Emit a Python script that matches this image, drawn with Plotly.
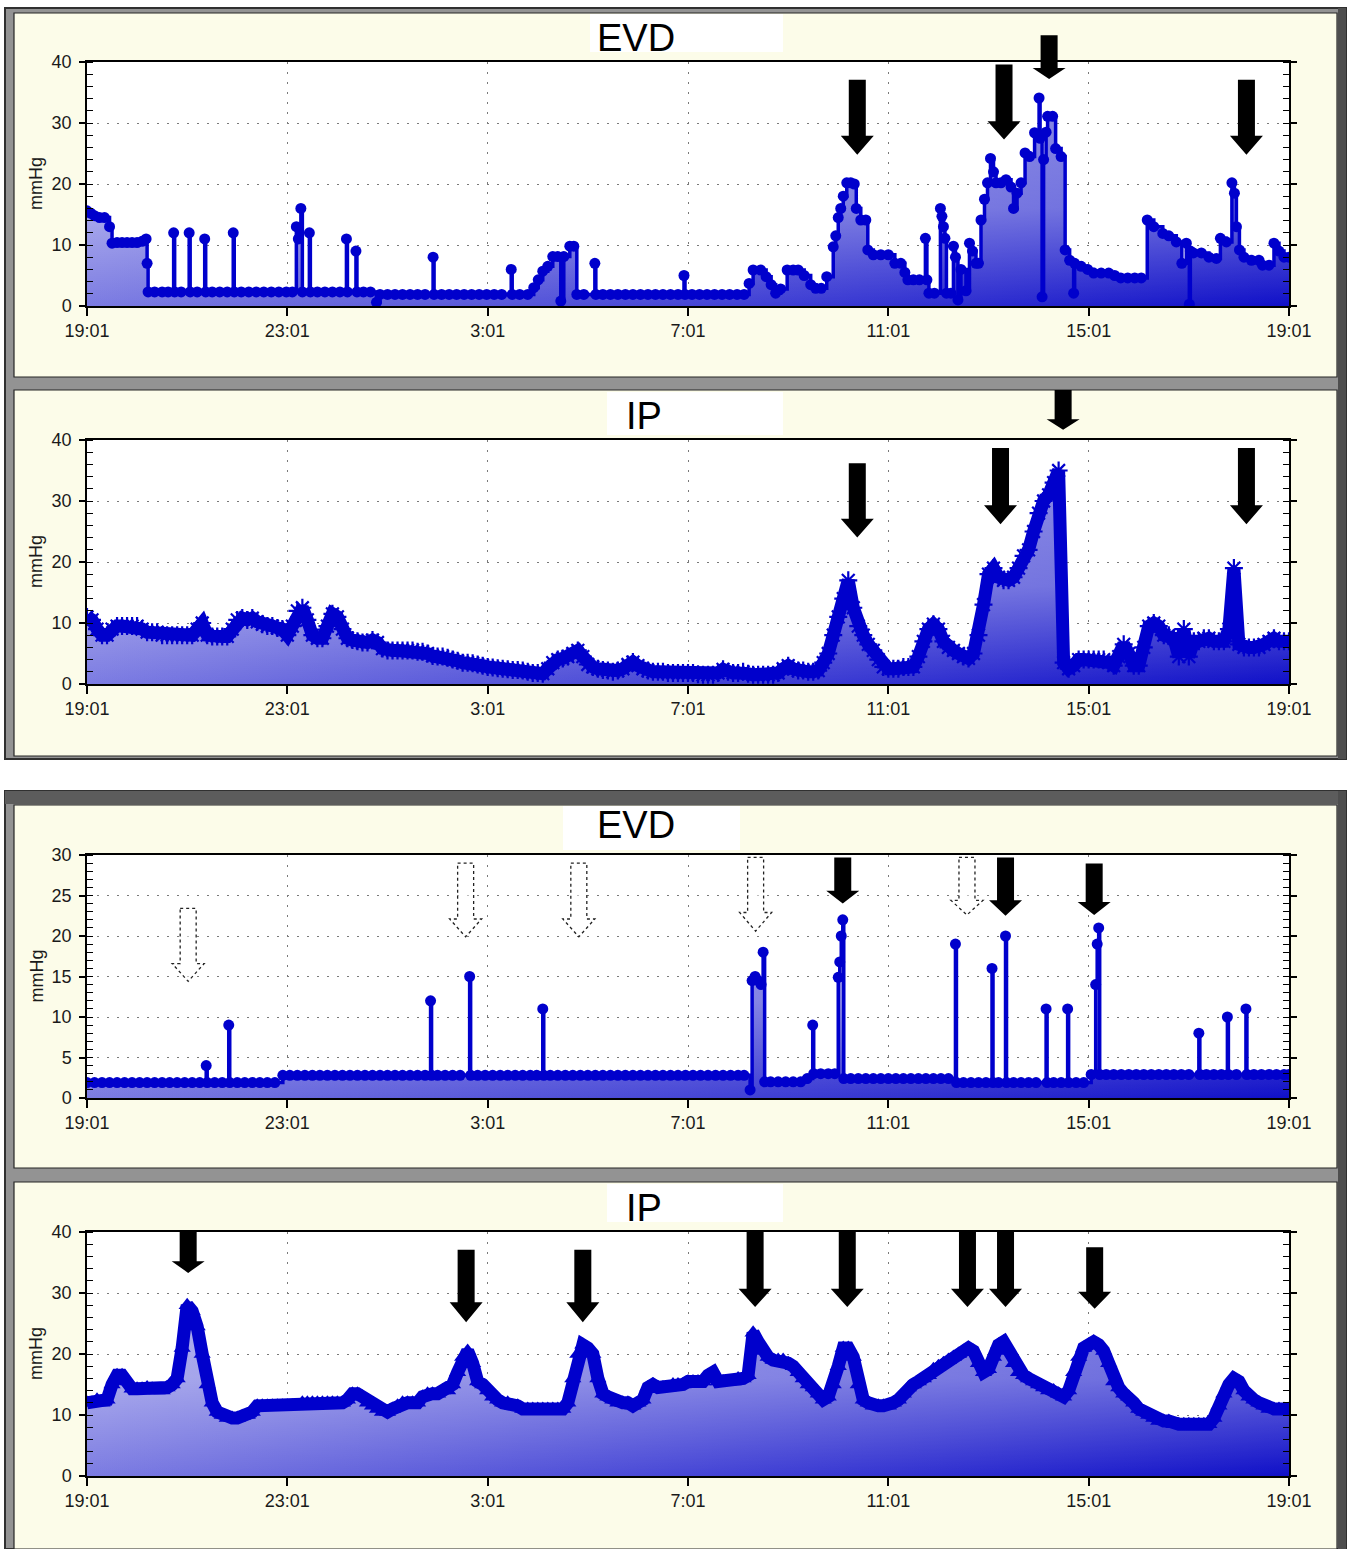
import plotly.graph_objects as go

W, H = 1351, 1549

# ---------------- data ----------------
HOUR_TICKS = [0, 4, 8, 12, 16, 20, 24]
HOUR_LABELS = ["19:01", "23:01", "3:01", "7:01", "11:01", "15:01", "19:01"]
PANEL_TITLES = ["EVD", "IP", "EVD", "IP"]

# EVD (day 1) : (hours after 19:01, mmHg)
EVD1 = [(0.00,15.6),(0.08,15.2),(0.15,14.8),(0.25,14.5),(0.35,14.5),(0.45,13.0),(0.50,10.3),(0.60,10.4),(0.70,10.4),(0.80,10.4),(0.90,10.4),(1.00,10.4),(1.10,10.6),(1.18,11.0),(1.20,7.0),(1.22,2.3),
(1.35,2.3),(1.50,2.3),(1.62,2.3),(1.73,12.0),(1.75,2.3),(1.88,2.3),(2.04,12.0),(2.06,2.3),(2.20,2.3),(2.35,11.0),(2.37,2.3),(2.50,2.3),(2.65,2.3),(2.80,2.3),(2.92,12.0),(2.94,2.3),
(3.08,2.3),(3.23,2.3),(3.38,2.3),(3.53,2.3),(3.68,2.3),(3.83,2.3),(3.98,2.3),(4.10,2.3),(4.18,13.0),(4.22,11.0),(4.27,16.0),(4.30,2.3),(4.44,12.0),(4.46,2.3),(4.60,2.3),(4.75,2.3),(4.90,2.3),(5.05,2.3),(5.18,11.0),(5.20,2.3),(5.37,9.0),(5.39,2.3),(5.52,2.3),(5.66,2.3),(5.78,0.6),(5.85,1.9),
(6.00,1.9),(6.15,1.9),(6.30,1.9),(6.45,1.9),(6.60,1.9),(6.75,1.9),(6.91,8.0),(6.93,1.9),(7.08,1.9),(7.23,1.9),(7.38,1.9),(7.53,1.9),(7.68,1.9),(7.83,1.9),(7.98,1.9),(8.13,1.9),(8.28,1.9),(8.47,6.0),(8.49,1.9),(8.64,1.9),(8.80,1.9),(8.92,3.0),(9.01,4.3),(9.10,5.7),(9.20,6.5),(9.30,8.1),(9.40,8.1),(9.46,0.8),(9.52,8.1),(9.64,9.8),(9.72,9.8),(9.78,1.9),
(9.92,1.9),(10.14,7.0),(10.16,1.9),(10.30,1.9),(10.45,1.9),(10.60,1.9),(10.75,1.9),(10.90,1.9),(11.05,1.9),(11.20,1.9),(11.35,1.9),(11.50,1.9),(11.65,1.9),(11.80,1.9),(11.92,5.0),(11.94,1.9),(12.08,1.9),(12.23,1.9),(12.38,1.9),(12.53,1.9),(12.68,1.9),(12.83,1.9),(12.98,1.9),(13.12,1.9),
(13.22,3.7),(13.30,5.9),(13.45,5.9),(13.56,4.8),(13.66,3.5),(13.75,2.1),(13.85,2.8),(13.98,5.9),(14.10,5.9),(14.20,5.9),(14.32,5.0),(14.45,3.5),(14.55,2.9),(14.66,2.9),(14.77,4.8),(14.90,9.7),(14.95,11.5),(15.00,14.5),(15.05,16.0),(15.10,18.0),(15.17,20.2),(15.25,20.2),(15.32,20.0),(15.36,16.0),(15.45,14.1),(15.55,14.1),(15.59,9.2),(15.70,8.4),(15.85,8.4),(16.00,8.4),(16.13,7.0),(16.25,7.0),(16.33,5.5),(16.39,4.3),(16.50,4.3),(16.62,4.3),(16.74,11.1),(16.77,4.3),(16.81,2.1),(16.92,2.1),(17.04,16.0),(17.07,14.7),(17.10,13.0),(17.13,11.1),(17.16,2.1),(17.25,2.1),(17.30,9.8),(17.34,8.0),(17.39,1.0),(17.45,6.0),(17.55,2.5),(17.62,10.3),(17.68,9.0),(17.75,7.0),(17.80,7.0),(17.85,14.1),(17.92,17.5),(17.98,20.2),(18.04,24.2),(18.10,22.0),(18.15,20.2),(18.25,20.2),(18.35,20.7),(18.45,19.5),(18.50,16.0),(18.57,18.5),(18.65,20.2),(18.73,25.1),(18.82,24.5),(18.92,28.4),(19.01,34.1),(19.03,27.5),(19.07,1.5),(19.10,24.0),(19.15,28.5),(19.18,31.1),(19.28,31.1),(19.34,25.8),(19.45,24.5),(19.53,9.2),(19.62,7.5),(19.70,2.1),(19.72,7.0),(19.85,6.5),(19.98,6.0),(20.10,5.4),(20.25,5.4),(20.40,5.4),(20.52,5.0),(20.64,4.6),(20.78,4.6),(20.92,4.6),(21.05,4.6),(21.17,14.1),(21.30,13.0),(21.48,11.9),(21.60,11.5),(21.75,10.5),(21.86,7.0),(21.95,10.3),(22.01,0.3),(22.03,9.0),(22.09,8.7),(22.25,8.7),(22.40,8.0),(22.55,7.8),(22.63,11.1),(22.75,10.5),(22.86,20.2),(22.91,18.5),(22.95,13.0),(23.01,9.2),(23.10,8.0),(23.25,7.5),(23.40,7.5),(23.47,6.7),(23.60,6.7),(23.70,10.3),(23.80,9.0),(23.90,8.0),(24.00,8.0)]

# EVD (day 2)
EVD3 = [(0.00,1.9),(0.15,1.9),(0.30,1.9),(0.45,1.9),(0.60,1.9),(0.75,1.9),(0.90,1.9),(1.05,1.9),(1.20,1.9),(1.35,1.9),(1.50,1.9),(1.65,1.9),(1.80,1.9),(1.95,1.9),(2.10,1.9),(2.25,1.9),(2.38,4.0),(2.40,1.9),(2.55,1.9),(2.70,1.9),(2.83,9.0),(2.85,1.9),(3.00,1.9),(3.15,1.9),(3.30,1.9),(3.45,1.9),(3.60,1.9),(3.75,1.9),
(3.91,2.8),(4.05,2.8),(4.20,2.8),(4.35,2.8),(4.50,2.8),(4.65,2.8),(4.80,2.8),(4.95,2.8),(5.10,2.8),(5.25,2.8),(5.40,2.8),(5.55,2.8),(5.70,2.8),(5.85,2.8),(6.00,2.8),(6.15,2.8),(6.30,2.8),(6.45,2.8),(6.60,2.8),(6.75,2.8),(6.86,12.0),(6.88,2.8),(7.00,2.8),(7.15,2.8),(7.30,2.8),(7.45,2.8),(7.64,15.0),(7.66,2.8),(7.80,2.8),(7.95,2.8),(8.10,2.8),(8.25,2.8),(8.40,2.8),(8.55,2.8),(8.70,2.8),(8.85,2.8),(8.98,2.8),(9.10,11.0),(9.12,2.8),(9.25,2.8),(9.40,2.8),(9.55,2.8),(9.70,2.8),(9.85,2.8),(10.00,2.8),(10.15,2.8),(10.30,2.8),(10.45,2.8),(10.60,2.8),(10.75,2.8),(10.90,2.8),(11.05,2.8),(11.20,2.8),(11.35,2.8),(11.50,2.8),(11.65,2.8),(11.80,2.8),(11.95,2.8),(12.10,2.8),(12.25,2.8),(12.40,2.8),(12.55,2.8),(12.70,2.8),(12.85,2.8),(13.00,2.8),(13.12,2.8),
(13.24,1.0),(13.28,14.5),(13.34,15.0),(13.40,14.5),(13.46,14.0),(13.50,18.0),(13.53,2.0),(13.65,2.0),(13.80,2.0),(13.95,2.0),(14.10,2.0),(14.25,2.0),(14.38,2.4),(14.49,9.0),(14.51,3.0),(14.65,3.0),(14.80,3.0),(14.93,3.0),(15.00,14.9),(15.03,16.8),(15.06,20.0),(15.09,22.0),(15.11,2.4),(15.25,2.4),(15.40,2.4),(15.55,2.4),(15.70,2.4),(15.85,2.4),(16.00,2.4),(16.15,2.4),(16.30,2.4),(16.45,2.4),(16.60,2.4),(16.75,2.4),(16.90,2.4),(17.05,2.4),(17.20,2.4),(17.34,19.0),(17.36,1.9),(17.50,1.9),(17.65,1.9),(17.80,1.9),(17.95,1.9),(18.07,16.0),(18.09,1.9),(18.20,1.9),(18.34,20.0),(18.36,1.9),(18.50,1.9),(18.65,1.9),(18.80,1.9),(18.95,1.9),(19.15,11.0),(19.17,1.9),(19.30,1.9),(19.45,1.9),(19.58,11.0),(19.60,1.9),(19.75,1.9),(19.90,1.9),(20.05,2.9),(20.14,14.0),(20.17,19.0),(20.20,21.0),(20.22,2.9),(20.35,2.9),(20.50,2.9),(20.65,2.9),(20.80,2.9),(20.95,2.9),(21.10,2.9),(21.25,2.9),(21.40,2.9),(21.55,2.9),(21.70,2.9),(21.85,2.9),(22.00,2.9),(22.20,8.0),(22.22,2.9),(22.35,2.9),(22.50,2.9),(22.65,2.9),(22.77,10.0),(22.79,2.9),(22.95,2.9),(23.14,11.0),(23.16,2.9),(23.30,2.9),(23.45,2.9),(23.60,2.9),(23.75,2.9),(23.90,2.9),(24.00,2.9)]

# IP readings every 0.1 h from 19:01
IP_HOURS = [round(i * 0.1, 1) for i in range(241)]
IP2 = [
11.0,10.5,9.0,8.0,8.0,9.0,9.5,9.5,9.5,9.5,
9.5,9.0,8.5,8.5,8.5,8.0,8.0,8.0,8.0,8.0,
8.0,8.0,9.0,10.0,8.0,7.8,7.8,7.8,7.8,9.0,
10.5,10.8,10.5,10.8,10.2,9.8,9.5,9.5,9.2,9.0,
8.0,9.5,12.0,12.5,10.5,8.0,7.5,7.5,9.5,11.5,
11.0,9.0,7.5,7.2,7.0,6.8,6.8,7.2,6.8,5.8,
5.5,5.5,5.5,5.5,5.5,5.5,5.3,5.3,5.0,4.6,
4.5,4.5,4.3,4.0,3.8,3.5,3.5,3.4,3.2,3.0,
2.8,2.7,2.6,2.5,2.4,2.3,2.3,2.2,2.0,1.8,
1.8,1.7,2.5,3.5,4.0,4.2,4.5,5.0,5.5,4.5,
3.2,2.8,2.5,2.3,2.2,2.0,2.2,2.5,3.2,3.6,
3.0,2.5,2.2,2.0,2.0,2.0,1.8,1.8,1.8,1.8,
1.8,1.8,1.6,1.5,1.5,1.5,1.8,2.4,2.0,1.8,
1.8,2.0,1.7,1.5,1.5,1.5,1.5,1.5,1.8,2.5,
3.0,2.5,2.2,2.2,2.0,2.0,2.2,3.5,5.0,8.0,
11.0,14.0,17.0,12.5,9.5,8.0,6.5,5.5,4.0,2.8,
2.5,2.5,2.5,2.8,2.8,2.8,4.5,7.0,9.0,9.8,
9.0,7.0,6.0,5.5,5.0,4.5,4.2,5.0,8.0,13.0,
18.0,19.0,17.5,17.0,17.0,17.5,19.0,21.0,22.0,25.0,
28.0,30.0,31.0,33.0,35.0,3.5,2.5,3.0,4.0,4.0,
4.0,4.0,4.0,4.0,3.5,3.0,4.5,6.5,5.0,3.0,
3.0,6.0,9.5,10.0,9.5,8.0,8.0,7.5,4.5,9.0,
4.5,7.0,7.0,7.5,7.5,7.0,7.0,7.0,9.0,19.0,
6.5,6.0,6.0,6.0,6.0,6.5,7.0,7.5,7.0,7.0,
7.0]
IP4 = [
12.0,12.0,12.5,12.0,12.5,15.0,16.5,16.5,15.5,14.3,
14.3,14.3,14.5,14.3,14.0,14.0,14.5,15.0,16.0,21.0,
28.0,27.0,24.5,20.0,15.0,12.0,10.5,10.0,9.5,9.5,
9.5,9.8,10.0,10.5,11.5,11.5,11.5,11.5,11.5,11.5,
11.5,11.5,11.5,12.0,12.0,12.0,12.0,12.0,12.0,12.0,
12.0,12.0,12.5,13.5,13.5,13.0,12.0,11.5,11.0,10.5,
10.5,11.0,11.5,12.0,12.0,12.0,12.0,13.0,13.5,13.5,
13.5,14.0,14.0,15.0,17.0,19.5,20.5,18.5,15.5,15.0,
14.0,13.0,12.5,12.0,12.0,11.5,11.5,11.0,11.0,11.0,
11.0,11.0,11.0,11.0,11.0,11.0,12.0,16.0,20.0,21.5,
21.0,20.0,16.0,13.5,13.0,12.5,12.0,12.0,12.0,11.5,
12.0,12.5,14.5,15.0,14.5,14.5,14.5,15.0,15.0,15.0,
15.5,15.5,15.5,15.5,16.5,17.0,15.5,15.5,15.5,15.5,
16.0,16.0,16.5,23.5,22.0,20.5,19.5,19.0,19.0,19.0,
18.5,18.0,17.0,16.0,15.0,14.5,13.5,12.5,13.0,15.0,
18.0,21.0,21.0,19.5,15.0,12.5,12.0,11.5,11.5,11.5,
11.5,12.0,12.5,13.5,14.5,15.0,15.5,16.0,16.5,17.5,
18.0,18.5,19.0,19.5,20.0,20.5,21.0,20.5,18.5,17.0,
17.5,19.5,21.5,22.0,20.5,18.5,17.0,16.5,16.0,15.5,
15.0,14.5,14.0,14.0,13.5,13.0,14.0,17.0,19.5,21.0,
21.5,22.0,21.5,20.5,18.5,15.5,14.5,13.5,13.0,12.0,
11.0,10.5,10.0,9.5,9.0,9.0,9.0,8.5,8.5,8.5,
8.5,8.5,8.5,8.5,8.5,9.5,11.5,13.5,15.0,16.0,
15.5,14.0,13.0,12.5,12.0,11.5,11.0,11.0,11.0,11.0,
11.0]

# arrows: (panel, hour, top mmHg, head-start mmHg, tip mmHg, solid?)
ARROWS = [
    (0, 15.38, 37.1, 27.9, 24.8, True), (0, 18.31, 39.6, 30.3, 27.3, True),
    (0, 19.21, 44.4, 39.0, 37.2, True), (0, 23.15, 37.1, 27.9, 24.8, True),
    (1, 15.38, 36.2, 27.1, 24.0, True), (1, 18.24, 38.7, 29.3, 26.2, True),
    (1, 19.49, 48.2, 43.4, 41.7, True), (1, 23.15, 38.7, 29.3, 26.2, True),
    (2, 15.09, 29.7, 25.6, 24.0, True), (2, 18.34, 29.7, 24.4, 22.5, True),
    (2, 20.11, 28.95, 24.2, 22.6, True),
    (2, 2.02, 23.4, 16.6, 14.4, False), (2, 7.56, 29.0, 22.1, 19.9, False),
    (2, 9.82, 29.0, 22.1, 19.9, False), (2, 13.35, 29.7, 22.9, 20.6, False),
    (2, 17.57, 29.7, 24.4, 22.6, False),
    (3, 2.02, 40.0, 35.2, 33.3, True), (3, 7.57, 37.1, 28.5, 25.2, True),
    (3, 9.90, 37.1, 28.5, 25.2, True), (3, 13.34, 40.0, 30.7, 27.7, True),
    (3, 15.18, 40.0, 30.7, 27.7, True), (3, 17.58, 40.0, 30.7, 27.7, True),
    (3, 18.34, 40.0, 30.7, 27.7, True), (3, 20.12, 37.5, 30.2, 27.4, True),
]

# ---------------- geometry / style ----------------
Y_MAX = [40, 40, 30, 40]
Y_DTICK = [10, 10, 5, 10]
Y_MINOR = [2, 2, 1, 2]
PLOT_X = (87, 1289)
PLOT_Y = [(62, 306), (440, 684), (855, 1098), (1232, 1476)]
BLUE = "#0000cc"
FONT = "Liberation Sans, Arial, sans-serif"


def fx(p):
    return p / W


def fy(p):
    return 1 - p / H


fig = go.Figure()

series = [
    ([t for t, _ in EVD1], [v for _, v in EVD1], "hv", dict(symbol="circle", size=11, color=BLUE), 3.5),
    (IP_HOURS, IP2, "linear", dict(symbol="asterisk-open", size=15, color=BLUE, line=dict(width=2.2, color=BLUE)), 13),
    ([t for t, _ in EVD3], [v for _, v in EVD3], "hv", dict(symbol="circle", size=11, color=BLUE), 3.5),
    (IP_HOURS, IP4, "linear", dict(symbol="triangle-up", size=15, color=BLUE), 13),
]

for i, (xs, ys, shape, marker, lw) in enumerate(series):
    xa = "x" if i == 0 else f"x{i+1}"
    ya = "y" if i == 0 else f"y{i+1}"
    fig.add_trace(go.Scatter(
        x=xs, y=ys, xaxis=xa, yaxis=ya, mode="lines", line=dict(width=0, shape=shape),
        fill="tozeroy",
        fillgradient=dict(type="horizontal", start=0, stop=24,
                          colorscale=[[0, "#7c7ce2"], [0.5, "#4646d6"], [1, "#1010c8"]]),
        hoverinfo="skip", showlegend=False))
    fig.add_trace(go.Scatter(
        x=xs, y=ys, xaxis=xa, yaxis=ya, mode="lines", line=dict(width=0, shape=shape),
        fill="tozeroy",
        fillgradient=dict(type="vertical", start=0, stop=Y_MAX[i],
                          colorscale=[[0, "rgba(255,255,255,0)"], [0.4, "rgba(255,255,255,0.36)"],
                                      [1, "rgba(255,255,255,0.5)"]]),
        hoverinfo="skip", showlegend=False))
    fig.add_trace(go.Scatter(
        x=xs, y=ys, xaxis=xa, yaxis=ya, mode="lines+markers",
        line=dict(width=lw, color=BLUE, shape=shape), marker=marker,
        showlegend=False))

    y0, y1 = PLOT_Y[i]
    xkey = "xaxis" if i == 0 else f"xaxis{i+1}"
    ykey = "yaxis" if i == 0 else f"yaxis{i+1}"
    fig.update_layout(**{
        xkey: dict(domain=[fx(PLOT_X[0]), fx(PLOT_X[1])], anchor=ya, range=[0, 24],
                   automargin=False,
                   tickvals=HOUR_TICKS, ticktext=HOUR_LABELS, showgrid=True,
                   gridcolor="#7a7a7a", griddash="2px,8px", gridwidth=1,
                   showline=True, linecolor="black", linewidth=1.5, mirror=True,
                   ticks="outside", ticklen=8, tickwidth=1.5, tickcolor="black",
                   zeroline=False, tickfont=dict(size=18, color="#1a1a1a", family=FONT)),
        ykey: dict(domain=[fy(y1), fy(y0)], anchor=xa, range=[0, Y_MAX[i]],
                   automargin=False,
                   dtick=Y_DTICK[i], tick0=0, showgrid=True, gridcolor="#7a7a7a",
                   griddash="2px,8px", gridwidth=1, showline=True, linecolor="black",
                   linewidth=1.5, mirror="allticks", ticks="outside", ticklen=6,
                   tickwidth=1.5, tickcolor="black", zeroline=False,
                   ticklabelstandoff=4,
                   minor=dict(dtick=Y_MINOR[i], ticks="inside", ticklen=6,
                              tickwidth=1.2, tickcolor="black", showgrid=False),
                   tickfont=dict(size=18, color="#1a1a1a", family=FONT)),
    })

shapes = []


def rect(x0, y0, x1, y1, fill, line=None, lw=0, layer="below"):
    shapes.append(dict(type="rect", xref="paper", yref="paper", x0=fx(x0), x1=fx(x1),
                       y0=fy(y1), y1=fy(y0), fillcolor=fill, layer=layer,
                       line=dict(color=line or fill, width=lw)))


# window frames
rect(5, 8, 1346, 759, "#939393", "#303030", 2)
rect(5, 791, 1346, 1549, "#939393", "#303030", 2)
rect(5, 791, 1346, 804, "#5c5c5c")
rect(1338, 8, 1346, 759, "#4e4e4e")
rect(1338, 791, 1346, 1549, "#4e4e4e")
for (x0, y0, x1, y1) in [(14, 13, 1337, 377), (14, 390, 1337, 756),
                         (14, 805, 1337, 1168), (14, 1182, 1337, 1549)]:
    rect(x0, y0, x1, y1, "#fcfce9", "#262626", 1.2)
for (x0, y0, x1, y1) in [(590, 14, 783, 52), (607, 392, 783, 435),
                         (563, 806, 740, 850), (607, 1184, 783, 1222)]:
    rect(x0, y0, x1, y1, "#ffffff")
for (y0, y1) in PLOT_Y:
    rect(PLOT_X[0], y0, PLOT_X[1], y1, "#ffffff")


def hx(hour):
    return PLOT_X[0] + hour * (PLOT_X[1] - PLOT_X[0]) / 24


def vy(panel, v):
    y0, y1 = PLOT_Y[panel]
    return y1 - v * (y1 - y0) / Y_MAX[panel]


for panel, hour, top, head, tip, solid in ARROWS:
    x = hx(hour)
    yt, yh, ytip = vy(panel, top), vy(panel, head), vy(panel, tip)
    sw, hw = (8.5, 16.5) if solid else (8, 16)
    pts = [(x - sw, yt), (x + sw, yt), (x + sw, yh), (x + hw, yh), (x, ytip),
           (x - hw, yh), (x - sw, yh)]
    path = "M " + " L ".join(f"{fx(a):.5f},{fy(b):.5f}" for a, b in pts) + " Z"
    if solid:
        shapes.append(dict(type="path", xref="paper", yref="paper", path=path,
                           fillcolor="black", line=dict(width=0), layer="above"))
    else:
        shapes.append(dict(type="path", xref="paper", yref="paper", path=path,
                           fillcolor="rgba(255,255,255,0.5)",
                           line=dict(width=1.3, color="#222222", dash="dot"), layer="above"))

annotations = []
TITLE_POS = [(636, 38), (644, 416), (636, 825), (644, 1208)]
for i, (tx, ty) in enumerate(TITLE_POS):
    annotations.append(dict(text=PANEL_TITLES[i], x=fx(tx), y=fy(ty), xref="paper", yref="paper",
                            showarrow=False, xanchor="center", yanchor="middle",
                            font=dict(size=38, color="black", family=FONT)))
    y0, y1 = PLOT_Y[i]
    annotations.append(dict(text="mmHg", x=fx(36), y=fy((y0 + y1) / 2), xref="paper", yref="paper",
                            showarrow=False, textangle=-90, xanchor="center", yanchor="middle",
                            font=dict(size=18, color="#1a1a1a", family=FONT)))

fig.update_layout(width=W, height=H,
                  margin=dict(l=0, r=0, t=0, b=0, pad=0, autoexpand=False),
                  paper_bgcolor="white", plot_bgcolor="white", showlegend=False,
                  shapes=shapes, annotations=annotations, font=dict(family=FONT))

fig.write_html("out.html", config={"responsive": False, "displayModeBar": False},
               post_script="document.body.style.margin='0px';document.body.style.overflow='hidden';")
